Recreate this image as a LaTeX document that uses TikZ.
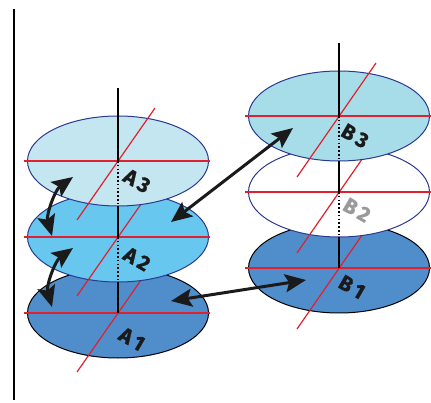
\documentclass[tikz,border=0pt]{standalone}
\usepackage{fontspec}
\setmainfont{Fira Sans}
\newfontfamily\lblfont[BoldFeatures={FakeBold=1.2}]{Fira Sans}
\usetikzlibrary{shapes.geometric,arrows.meta,calc}
\definecolor{aLight}{HTML}{C4E6F0}
\definecolor{aMid}{HTML}{68C7EF}
\definecolor{aDark}{HTML}{508ECB}
\definecolor{bLight}{HTML}{A7DDE9}
\definecolor{rimBlue}{HTML}{2B3990}
\definecolor{redline}{HTML}{E0202E}
\definecolor{lblgray}{HTML}{9A9A9A}
\definecolor{lblblack}{HTML}{1A1A1A}
\tikzset{
  disk/.style={ellipse, minimum width=181pt, minimum height=90pt, inner sep=0pt, line width=1pt},
  redl/.style={draw=redline, line width=1.2pt},
  axisl/.style={draw=black, line width=1.3pt},
  hidden/.style={draw=black, line width=1.5pt, dash pattern=on 1.6pt off 2.2pt},
  lbl/.style={font=\lblfont\fontsize{21}{21}\selectfont\bfseries, text=lblblack, rotate=-30, inner sep=0pt},
  dbl/.style={line width=3pt, draw=lblblack, {Stealth[length=21pt,width=18pt,inset=4pt]}-{Stealth[length=21pt,width=18pt,inset=4pt]}}
}
\begin{document}
\begin{tikzpicture}[x=1pt,y=-1pt]
\useasboundingbox (0,0) rectangle (431,403);
% left frame line
\coordinate (L1) at (14,9);
\coordinate (L2) at (14,400);
\draw[line width=1.2pt] (L1) -- (L2);

% ---------- stack A ----------
\foreach \n/\cy/\fc/\dc in {A1/313/aDark/black, A2/237/aMid/rimBlue, A3/161/aLight/rimBlue}{
  \node[disk, fill=\fc, draw=\dc] (\n) at (118,\cy) {};
  \draw[redl] ($(\n.center)+(37,-53)$) -- ($(\n.center)+(-41,59)$);
  \draw[redl] ([xshift=-3pt]\n.west) -- ([xshift=1pt]\n.east);
}
% axis A
\coordinate (Atop) at (118,88);
\draw[axisl] (Atop) -- (A3.center);
\draw[hidden] (A3.center) -- (A3.south);
\draw[axisl] (A3.south) -- (A2.center);
\draw[hidden] (A2.center) -- (A2.south);
\draw[axisl] (A2.south) -- (A1.center);

% ---------- stack B ----------
\foreach \n/\cy/\fc/\dc in {B1/268/aDark/black, B2/192/white/rimBlue, B3/116/bLight/rimBlue}{
  \node[disk, fill=\fc, draw=\dc] (\n) at (339,\cy) {};
  \draw[redl] ($(\n.center)+(37,-53)$) -- ($(\n.center)+(-42,61)$);
  \draw[redl] ([xshift=-3pt]\n.west) -- ([xshift=2pt]\n.east);
}
\coordinate (Btop) at (339,43);
\draw[axisl] (Btop) -- (B3.center);
\draw[hidden] (B3.center) -- (B3.south);
\draw[axisl] (B3.south) -- (B2.center);
\draw[hidden] (B2.center) -- (B2.south);
\draw[axisl] (B2.south) -- (B1.center);

% labels
\node[lbl] (lA3) at (137,181) {A\,3};
\node[lbl] (lA2) at (137,259) {A\,2};
\node[lbl] (lA1) at (132,339) {A\,1};
\node[lbl] (lB3) at (355,136) {B\,3};
\node[lbl, text=lblgray] (lB2) at (357,210) {B\,2};
\node[lbl] (lB1) at (352,287) {B\,1};

% arrows
\coordinate (p1) at (73,177);
\coordinate (p2) at (52,236);
\coordinate (p3) at (73,248);
\coordinate (p4) at (52,307);
\draw[dbl] (p1) .. controls (55,190) and (46,215) .. (p2);
\draw[dbl] (p3) .. controls (55,261) and (46,286) .. (p4);
\coordinate (q1) at (171,222);
\coordinate (q2) at (293,128);
\draw[dbl] (q1) -- (q2);
\coordinate (r1) at (171,301);
\coordinate (r2) at (306,280);
\draw[dbl] (r1) -- (r2);
\end{tikzpicture}
\end{document}
